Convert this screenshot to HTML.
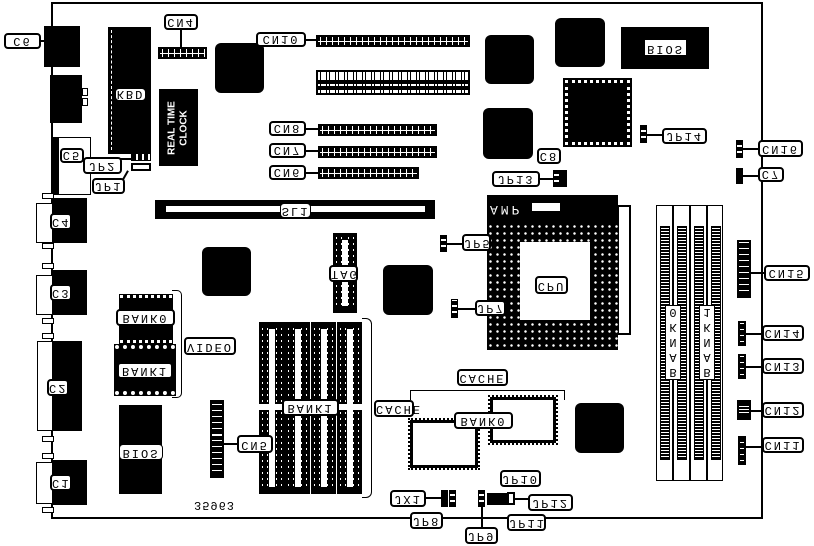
<!DOCTYPE html>
<html><head><meta charset="utf-8"><style>
body{margin:0;width:814px;height:546px;background:#fff;position:relative;overflow:hidden;font-family:"Liberation Mono",monospace}
div{position:absolute;box-sizing:border-box}
.k{background:#000}
.ch{background:#000;border-radius:6px}
.lb{background:#fff;border:2px solid #000;border-radius:4px;font-size:12px;line-height:12px;letter-spacing:2px;text-align:center;transform:scaleY(-1);white-space:nowrap;z-index:5}
.cn{background:repeating-linear-gradient(90deg,#000 0 2px,#fff 2px 3px,#000 3px 6px);border:2px solid #000}
.cn::after{content:"";position:absolute;left:0;right:0;top:45%;height:1px;background:#fff}
.cv{background:repeating-linear-gradient(0deg,#000 0 2px,#fff 2px 3px,#000 3px 6px);border:2px solid #000}
.ln{background:#000;height:2px}
.vl{background:#000;width:2px}
.jp{border:1px solid #000;background:repeating-linear-gradient(0deg,#000 0 4px,#fff 4px 6px)}
.jh{border:1px solid #000;background:repeating-linear-gradient(90deg,#000 0 4px,#fff 4px 6px)}
.ol{border:1px solid #000;background:#fff}
.dip{background:#000;border:1px solid #000}
.dip::before{content:"";position:absolute;left:calc(50% - 3px);width:6px;top:6px;bottom:6px;background:#fff}
.dip::after{content:"";position:absolute;left:2px;right:2px;top:3px;bottom:3px;background:linear-gradient(90deg,transparent 0 1px,#000 1px 5px,transparent 5px calc(100% - 5px),#000 calc(100% - 5px) calc(100% - 1px),transparent 0),repeating-linear-gradient(0deg,#000 0 4px,#fff 4px 6px);-webkit-mask:linear-gradient(90deg,#000 0 6px,transparent 6px calc(100% - 6px),#000 0);mask:linear-gradient(90deg,#000 0 6px,transparent 6px calc(100% - 6px),#000 0)}
.simm{border:1px solid #000;background:#fff}
.simm::before{content:"";position:absolute;left:3px;width:8px;top:20px;bottom:20px;background:repeating-linear-gradient(0deg,#000 0 2px,#fff 2px 3px);border:1px solid #000}
</style></head><body>
<div class="k" style="left:51px;top:2px;width:712px;height:2px"></div>
<div class="k" style="left:51px;top:2px;width:2px;height:517px"></div>
<div class="k" style="left:51px;top:517px;width:712px;height:2px"></div>
<div class="k" style="left:761px;top:2px;width:2px;height:517px"></div>

<div class="k" style="left:44px;top:26px;width:36px;height:41px"></div>
<div class="lb" style="left:4px;top:33px;width:37px;height:16px">C6</div>
<div class="ln" style="left:40px;top:40px;width:6px"></div>
<div class="k" style="left:50px;top:75px;width:32px;height:48px"></div>
<div class="ol" style="left:82px;top:88px;width:6px;height:8px"></div>
<div class="ol" style="left:82px;top:98px;width:6px;height:8px"></div>
<div class="ol" style="left:58px;top:137px;width:33px;height:58px"></div>
<div class="k" style="left:52px;top:137px;width:6px;height:58px"></div>
<div class="lb" style="left:60px;top:148px;width:24px;height:15px">C5</div>

<div class="ol" style="left:36px;top:203px;width:20px;height:40px"></div>
<div class="k" style="left:52px;top:198px;width:35px;height:45px"></div>
<div class="ol" style="left:42px;top:193px;width:12px;height:6px"></div>
<div class="ol" style="left:42px;top:243px;width:12px;height:6px"></div>
<div class="lb" style="left:50px;top:213px;width:22px;height:17px">C4</div>
<div class="ol" style="left:42px;top:263px;width:12px;height:6px"></div>
<div class="ol" style="left:36px;top:275px;width:20px;height:40px"></div>
<div class="k" style="left:52px;top:270px;width:35px;height:45px"></div>
<div class="lb" style="left:50px;top:284px;width:22px;height:17px">C3</div>
<div class="ol" style="left:42px;top:318px;width:12px;height:6px"></div>
<div class="ol" style="left:42px;top:333px;width:12px;height:6px"></div>
<div class="ol" style="left:37px;top:341px;width:20px;height:90px"></div>
<div class="k" style="left:52px;top:341px;width:30px;height:90px"></div>
<div class="lb" style="left:47px;top:379px;width:22px;height:17px">C2</div>
<div class="ol" style="left:42px;top:436px;width:12px;height:6px"></div>
<div class="ol" style="left:42px;top:453px;width:12px;height:6px"></div>
<div class="ol" style="left:36px;top:462px;width:20px;height:42px"></div>
<div class="k" style="left:52px;top:460px;width:35px;height:45px"></div>
<div class="lb" style="left:50px;top:474px;width:22px;height:17px">C1</div>
<div class="ol" style="left:42px;top:507px;width:12px;height:6px"></div>

<div class="k" style="left:108px;top:27px;width:43px;height:127px"></div>
<div style="left:111px;top:30px;width:0;height:120px;border-left:1px dashed #fff"></div>
<div class="lb" style="left:115px;top:88px;width:31px;height:13px;border-width:1px">KBD</div>
<div class="lb" style="left:164px;top:14px;width:34px;height:16px">CN4</div>
<div class="vl" style="left:180px;top:29px;height:18px"></div>
<div class="cn" style="left:158px;top:47px;width:49px;height:12px"></div>
<div class="k" style="left:159px;top:89px;width:39px;height:77px"></div>
<div style="left:140px;top:114px;width:77px;height:28px;transform:rotate(-90deg);color:#fff;font:bold 10px/12px 'Liberation Sans',sans-serif;text-align:center;padding-top:2px">REAL TIME<br>CLOCK</div>
<div class="ch" style="left:215px;top:43px;width:49px;height:50px"></div>
<div class="lb" style="left:256px;top:32px;width:50px;height:15px">CN10</div>
<div class="ln" style="left:305px;top:39px;width:12px"></div>
<div class="cn" style="left:316px;top:35px;width:154px;height:12px"></div>
<div style="left:316px;top:70px;width:154px;height:25px;border:2px solid #000;background:repeating-linear-gradient(90deg,#fff 0 2px,#000 2px 3px,#fff 3px 8px,#000 8px 9px)"></div>
<div class="k" style="left:318px;top:80px;width:150px;height:4px"></div>
<div class="k" style="left:318px;top:86px;width:150px;height:4px"></div>
<div class="lb" style="left:269px;top:121px;width:37px;height:15px">CN8</div>
<div class="ln" style="left:305px;top:128px;width:14px"></div>
<div class="cn" style="left:318px;top:124px;width:119px;height:12px"></div>
<div class="lb" style="left:269px;top:143px;width:37px;height:15px">CN7</div>
<div class="ln" style="left:305px;top:150px;width:14px"></div>
<div class="cn" style="left:318px;top:146px;width:119px;height:12px"></div>
<div class="lb" style="left:269px;top:165px;width:37px;height:15px">CN6</div>
<div class="ln" style="left:305px;top:172px;width:14px"></div>
<div class="cn" style="left:318px;top:167px;width:101px;height:12px"></div>
<div class="lb" style="left:83px;top:157px;width:39px;height:17px">JP2</div>
<div class="ln" style="left:120px;top:158px;width:12px"></div>
<div class="jh" style="left:131px;top:153px;width:20px;height:8px"></div>
<div class="lb" style="left:92px;top:178px;width:33px;height:16px">JP1</div>
<div class="jh" style="left:131px;top:163px;width:20px;height:8px;background:#fff;border:2px solid #000"></div>
<div class="vl" style="left:124px;top:170px;height:12px;transform:rotate(30deg)"></div>
<div class="k" style="left:155px;top:200px;width:280px;height:19px"></div>
<div style="left:166px;top:206px;width:259px;height:6px;background:#fff"></div>
<div class="lb" style="left:280px;top:203px;width:31px;height:15px;border-width:1px">SL1</div>

<div class="ch" style="left:485px;top:35px;width:49px;height:49px"></div>
<div class="ch" style="left:555px;top:18px;width:50px;height:49px"></div>
<div class="k" style="left:621px;top:27px;width:88px;height:42px"></div>
<div class="lb" style="left:645px;top:40px;width:41px;height:15px;border:none;border-radius:0">BIOS</div>
<div class="k" style="left:565px;top:80px;width:65px;height:65px;border:3px dotted #fff;outline:2px solid #000"></div>
<div class="ch" style="left:483px;top:108px;width:50px;height:51px"></div>
<div class="jp" style="left:640px;top:125px;width:7px;height:18px"></div>
<div class="ln" style="left:646px;top:134px;width:18px"></div>
<div class="lb" style="left:662px;top:128px;width:45px;height:16px">JP14</div>
<div class="lb" style="left:537px;top:148px;width:24px;height:16px">C8</div>
<div class="jp" style="left:560px;top:170px;width:7px;height:17px;background:#000"></div>
<div class="jp" style="left:553px;top:170px;width:7px;height:17px"></div>
<div class="ln" style="left:540px;top:178px;width:14px"></div>
<div class="lb" style="left:492px;top:171px;width:48px;height:16px">JP13</div>
<div class="jp" style="left:736px;top:140px;width:7px;height:18px"></div>
<div class="ln" style="left:742px;top:148px;width:17px"></div>
<div class="lb" style="left:758px;top:140px;width:45px;height:17px">CN16</div>
<div class="jp" style="left:736px;top:168px;width:7px;height:16px;background:#000"></div>
<div class="ln" style="left:742px;top:175px;width:17px"></div>
<div class="lb" style="left:758px;top:167px;width:26px;height:15px">C7</div>

<div class="k" style="left:487px;top:195px;width:131px;height:28px"></div>
<div style="left:490px;top:199px;width:54px;height:18px;color:#fff;font-size:13px;letter-spacing:3px;transform:scaleY(-1)">AMP</div>
<div style="left:532px;top:203px;width:28px;height:8px;background:#fff"></div>
<div class="ol" style="left:617px;top:205px;width:14px;height:130px;border-width:2px"></div>
<div style="left:487px;top:223px;width:131px;height:127px;background:#000;background-image:radial-gradient(#fff 1px,transparent 1.5px);background-size:7px 7px"></div>
<div style="left:520px;top:242px;width:70px;height:78px;background:#fff"></div>
<div class="lb" style="left:535px;top:276px;width:33px;height:18px">CPU</div>
<div class="jp" style="left:440px;top:235px;width:7px;height:17px"></div>
<div class="ln" style="left:446px;top:243px;width:18px"></div>
<div class="lb" style="left:462px;top:234px;width:29px;height:17px">JP5</div>
<div class="jp" style="left:451px;top:299px;width:7px;height:19px"></div>
<div class="ln" style="left:457px;top:308px;width:18px"></div>
<div class="lb" style="left:475px;top:300px;width:31px;height:16px">JP7</div>

<div class="simm" style="left:656px;top:205px;width:17px;height:276px"></div>
<div class="simm" style="left:673px;top:205px;width:17px;height:276px"></div>
<div class="simm" style="left:690px;top:205px;width:17px;height:276px"></div>
<div class="simm" style="left:707px;top:205px;width:16px;height:276px"></div>
<div class="lb" style="left:665px;top:305px;width:16px;height:75px;letter-spacing:0;line-height:15px;border-radius:0;border-width:1px;white-space:normal;word-break:break-all">BANK0</div>
<div class="lb" style="left:699px;top:305px;width:16px;height:75px;letter-spacing:0;line-height:15px;border-radius:0;border-width:1px;white-space:normal;word-break:break-all">BANK1</div>

<div class="cn" style="left:737px;top:240px;width:14px;height:58px;background:repeating-linear-gradient(0deg,#000 0 5px,#fff 5px 6px)"></div>
<div class="ln" style="left:750px;top:272px;width:16px"></div>
<div class="lb" style="left:764px;top:265px;width:46px;height:16px">CN15</div>
<div class="cv" style="left:738px;top:321px;width:8px;height:25px"></div>
<div class="ln" style="left:745px;top:333px;width:18px"></div>
<div class="lb" style="left:762px;top:325px;width:42px;height:16px">CN14</div>
<div class="cv" style="left:738px;top:354px;width:8px;height:25px"></div>
<div class="ln" style="left:745px;top:366px;width:18px"></div>
<div class="lb" style="left:762px;top:358px;width:42px;height:16px">CN13</div>
<div class="cn" style="left:737px;top:400px;width:14px;height:20px;background:repeating-linear-gradient(0deg,#000 0 5px,#fff 5px 6px)"></div>
<div class="ln" style="left:750px;top:410px;width:13px"></div>
<div class="lb" style="left:762px;top:402px;width:42px;height:16px">CN12</div>
<div class="cv" style="left:738px;top:436px;width:8px;height:29px"></div>
<div class="ln" style="left:745px;top:446px;width:18px"></div>
<div class="lb" style="left:762px;top:437px;width:42px;height:16px">CN11</div>

<div class="ch" style="left:202px;top:247px;width:49px;height:49px"></div>
<div class="ch" style="left:383px;top:265px;width:50px;height:50px"></div>
<div class="dip" style="left:333px;top:233px;width:24px;height:80px"></div>
<div class="lb" style="left:329px;top:265px;width:29px;height:17px">TAG</div>

<div class="k" style="left:120px;top:295px;width:52px;height:48px;border-top:3px dotted #fff;border-bottom:3px dotted #fff;outline:1px solid #000"></div>
<div class="lb" style="left:116px;top:309px;width:59px;height:17px">BANK0</div>
<div class="k" style="left:115px;top:345px;width:60px;height:50px;border-top:4px dotted #fff;border-bottom:4px dotted #fff;outline:1px solid #000"></div>
<div class="lb" style="left:117px;top:362px;width:56px;height:17px">BANK1</div>
<div style="left:172px;top:290px;width:10px;height:108px;border:1px solid #000;border-left:none;border-radius:0 5px 5px 0"></div>
<div class="lb" style="left:184px;top:337px;width:52px;height:18px">VIDEO</div>
<div class="k" style="left:119px;top:405px;width:43px;height:89px"></div>
<div class="lb" style="left:119px;top:444px;width:44px;height:16px;border-width:1px">BIOS</div>
<div class="cn" style="left:210px;top:400px;width:14px;height:78px;background:repeating-linear-gradient(0deg,#000 0 5px,#fff 5px 6px)"></div>
<div class="ln" style="left:223px;top:443px;width:16px"></div>
<div class="lb" style="left:237px;top:435px;width:36px;height:18px">CN5</div>
<div style="left:194px;top:498px;transform:scaleY(-1);font-size:12px;letter-spacing:1px">35963</div>

<div class="dip" style="left:259px;top:322px;width:26px;height:172px"></div>
<div class="dip" style="left:285px;top:322px;width:25px;height:172px"></div>
<div class="dip" style="left:311px;top:322px;width:25px;height:172px"></div>
<div class="dip" style="left:337px;top:322px;width:25px;height:172px"></div>
<div style="left:259px;top:404px;width:103px;height:6px;background:#fff;z-index:3"></div>
<div class="lb" style="left:282px;top:399px;width:57px;height:17px">BANK1</div>
<div style="left:362px;top:318px;width:10px;height:180px;border:1px solid #000;border-left:none;border-radius:0 6px 6px 0"></div>
<div class="lb" style="left:374px;top:400px;width:40px;height:17px">CACHE</div>
<div class="lb" style="left:457px;top:369px;width:51px;height:17px">CACHE</div>
<div style="left:410px;top:390px;width:155px;height:10px;border-top:1px solid #000;border-left:1px solid #000;border-right:1px solid #000"></div>
<div class="ol" style="left:410px;top:420px;width:68px;height:48px;border:3px solid #000;outline:2px dotted #000"></div>
<div class="ol" style="left:490px;top:397px;width:66px;height:46px;border:3px solid #000;outline:2px dotted #000"></div>
<div class="lb" style="left:454px;top:412px;width:59px;height:17px">BANK0</div>
<div class="ch" style="left:575px;top:403px;width:49px;height:50px"></div>

<div class="lb" style="left:390px;top:490px;width:36px;height:17px">JX1</div>
<div class="ln" style="left:425px;top:497px;width:16px"></div>
<div class="jp" style="left:441px;top:490px;width:7px;height:17px;background:#000"></div>
<div class="jp" style="left:449px;top:490px;width:7px;height:17px"></div>
<div class="lb" style="left:410px;top:512px;width:33px;height:17px">JP8</div>
<div class="jp" style="left:478px;top:490px;width:7px;height:17px"></div>
<div class="k" style="left:487px;top:493px;width:20px;height:12px"></div>
<div class="jp" style="left:507px;top:492px;width:8px;height:13px;background:#fff;border:2px solid #000"></div>
<div class="lb" style="left:500px;top:470px;width:41px;height:17px">JP10</div>
<div class="ln" style="left:514px;top:498px;width:15px"></div>
<div class="lb" style="left:528px;top:494px;width:45px;height:17px">JP12</div>
<div class="lb" style="left:507px;top:514px;width:39px;height:17px">JP11</div>
<div class="lb" style="left:465px;top:527px;width:33px;height:17px">JP9</div>
<div class="vl" style="left:481px;top:507px;height:20px"></div>
</body></html>
